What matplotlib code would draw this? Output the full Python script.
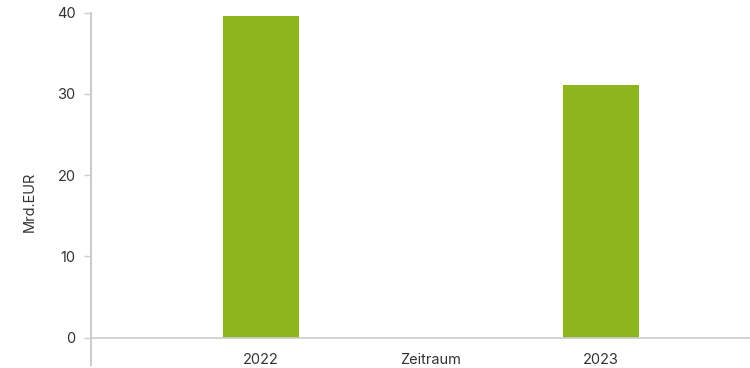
import matplotlib
matplotlib.use("Agg")
import matplotlib.pyplot as plt
import matplotlib.transforms as mtransforms

# data
years = ["2022", "2023"]
values = [39.6, 31.1]
y_ticks = [0, 10, 20, 30, 40]

BAR_COLOR = "#8db51e"
LINE_COLOR = "#cccccc"
TEXT_COLOR = "#333333"

plt.rcParams["font.family"] = ["Inter", "DejaVu Sans"]
plt.rcParams["font.size"] = 10

fig = plt.figure(figsize=(7.5, 3.68), dpi=100)
ax = fig.add_axes([0.1213, 0.0823, 0.8787, 0.8835])

positions = list(range(len(years)))
ax.bar(positions, values, width=0.224, color=BAR_COLOR, zorder=2)

ax.set_xlim(-0.5, 1.438)
ax.set_ylim(0, 40)
ax.set_yticks(y_ticks)
ax.set_xticks(positions)
ax.set_xticklabels(years)

# spines: only the bottom one, light grey
for side in ["top", "right", "left"]:
    ax.spines[side].set_visible(False)
ax.spines["bottom"].set_color(LINE_COLOR)
ax.spines["bottom"].set_linewidth(1.2)

# left axis line runs a bit below the bottom axis
ax.plot([0, 0], [-0.085, 1], transform=ax.transAxes, color=LINE_COLOR,
        lw=1.5, clip_on=False, zorder=3)

ax.tick_params(axis="y", length=5, width=1, color=LINE_COLOR, pad=6,
               labelcolor=TEXT_COLOR, labelsize=10.5)
ax.tick_params(axis="x", length=0, pad=11, labelcolor=TEXT_COLOR, labelsize=10.5)

# x axis title sits between the two categories, level with the tick labels
trans = mtransforms.blended_transform_factory(ax.transData, ax.transAxes)
ax.text(0.5, -0.07, "Zeitraum", transform=trans, ha="center", va="center",
        color=TEXT_COLOR, fontsize=10.5)

fig.text(30 / 750, 1 - 202 / 368, "Mrd.EUR", rotation=90, ha="center",
         va="center", color=TEXT_COLOR, fontsize=10.5)

fig.savefig("out.png", dpi=100)
